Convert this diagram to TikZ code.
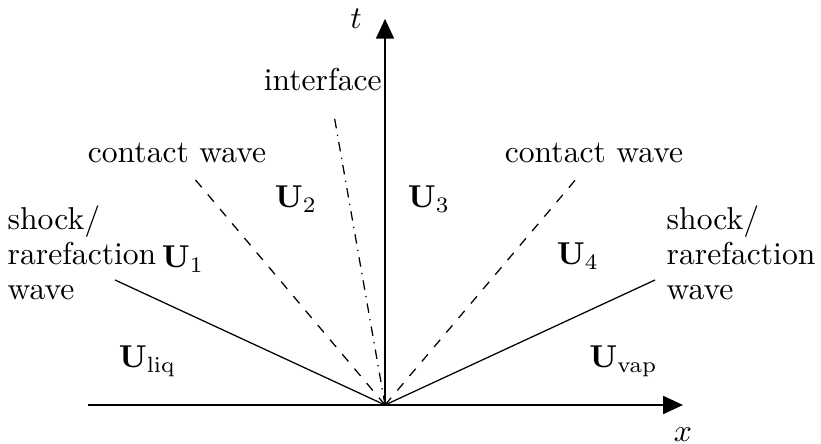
\documentclass[tikz,border=0pt]{standalone}
\usetikzlibrary{arrows.meta}
\tikzset{
  axis/.style={line width=0.6pt, -{Triangle[length=2.2mm,width=2mm]}},
  wavelabel/.style={align=left, inner sep=0pt, font=\fontsize{10}{11}\selectfont},
  statelabel/.style={inner sep=0pt}
}
\begin{document}
\begin{tikzpicture}[line width=0.4pt]
  \useasboundingbox (-4.278,-0.433) rectangle (4.844,4.5);
  \coordinate (O) at (0,0);
  \coordinate (XL) at (-3.3,0);
  \coordinate (XR) at (3.31,0);
  \coordinate (T) at (0,4.29);
  \coordinate (SL) at (-3,1.389);
  \coordinate (CL) at (-2.133,2.533);
  \coordinate (I) at (-0.567,3.222);
  \coordinate (CR) at (2.133,2.522);
  \coordinate (SR) at (3,1.389);
  % axes
  \draw[axis] (XL) -- (XR);
  \draw[axis] (O) -- (T);
  \node (xlab) at (3.311,-0.333) {$x$};
  \node (tlab) at (-0.322,4.289) {$t$};
  % waves
  \draw (O) -- (SL);
  \draw[dashed] (O) -- (CL);
  \draw[dashdotted] (O) -- (I);
  \draw[dashed] (O) -- (CR);
  \draw (O) -- (SR);
  \node[wavelabel] (shockl) at (-3.367,1.689) {shock/\\rarefaction\\wave};
  \node[wavelabel] (shockr) at (3.956,1.689) {shock/\\rarefaction\\wave};
  \node[inner sep=0pt] (contl) at (-2.311,2.806) {contact wave};
  \node[inner sep=0pt] (contr) at (2.322,2.806) {contact wave};
  \node[inner sep=0pt, anchor=east] (iface) at (-0.03,3.611) {interface};
  % states
  \node[statelabel] (Uliq) at (-2.64,0.489) {$\mathbf{U}_\mathrm{liq}$};
  \node[statelabel] (U1) at (-2.244,1.62) {$\mathbf{U}_1$};
  \node[statelabel] (U2) at (-0.989,2.29) {$\mathbf{U}_2$};
  \node[statelabel] (U3) at (0.489,2.29) {$\mathbf{U}_3$};
  \node[statelabel] (U4) at (2.144,1.656) {$\mathbf{U}_4$};
  \node[statelabel] (Uvap) at (2.65,0.489) {$\mathbf{U}_\mathrm{vap}$};
\end{tikzpicture}
\end{document}
